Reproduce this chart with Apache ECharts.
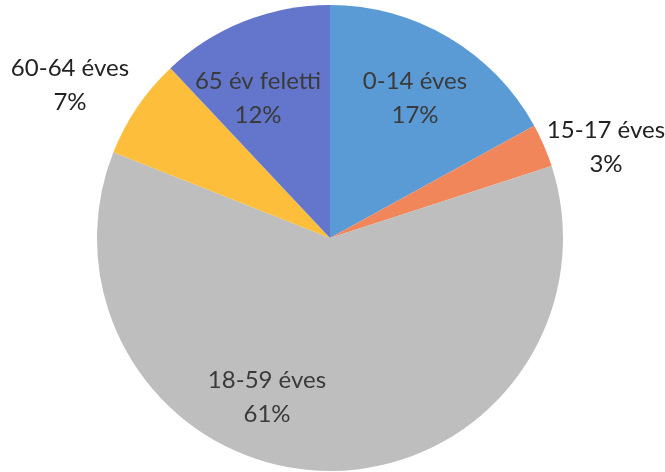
<!DOCTYPE html>
<html>
<head>
<meta charset="utf-8">
<script src="https://cdn.jsdelivr.net/npm/echarts@6/dist/echarts.min.js"></script>
<style>
html,body{margin:0;padding:0;background:#fff;}
#chart{width:665px;height:472px;}
</style>
</head>
<body>
<div id="chart"></div>
<script>
const categories = ['0-14 éves', '15-17 éves', '18-59 éves', '60-64 éves', '65 év feletti'];
const values = [17, 3, 61, 7, 12];
const colors = ['#5B9BD5', '#F0865A', '#BEBEBE', '#FDBE3C', '#6376CB'];

// label anchor points (text placement only)
const labelPos = [[415, 98], [606, 147], [267, 397], [70, 85], [258, 98]];
const labelColors = ['#3a3a3a', '#222222', '#3a3a3a', '#222222', '#3a3a3a'];

const chart = echarts.init(document.getElementById('chart'));
chart.setOption({
  animation: false,
  backgroundColor: '#fff',
  series: [{
    type: 'pie',
    center: [330, 238],
    radius: [0, 233],
    startAngle: 90,
    clockwise: true,
    avoidLabelOverlap: false,
    label: {
      show: true,
      position: 'inside',
      formatter: p => p.name + '\n' + p.value + '%',
      fontFamily: 'Lato',
      fontSize: 24,
      lineHeight: 34,
      align: 'center'
    },
    labelLine: { show: false },
    emphasis: { disabled: true },
    itemStyle: { borderWidth: 0 },
    labelLayout: function (params) {
      const pos = labelPos[params.dataIndex];
      return { x: pos[0], y: pos[1], align: 'center', verticalAlign: 'middle' };
    },
    data: categories.map((c, i) => ({
      name: c,
      value: values[i],
      itemStyle: { color: colors[i] },
      label: { color: labelColors[i] }
    }))
  }]
});
</script>
</body>
</html>
